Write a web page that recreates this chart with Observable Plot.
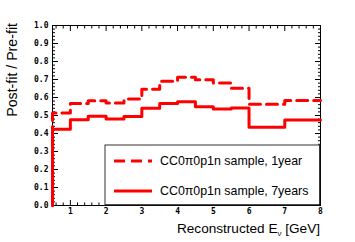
<!DOCTYPE html>
<html>
<head>
<meta charset="utf-8">
<script src="https://cdn.jsdelivr.net/npm/d3@7"></script>
<script src="https://cdn.jsdelivr.net/npm/@observablehq/plot@0.6"></script>
<style>
  html, body { margin: 0; padding: 0; background: #fff; }
  #chart { width: 355px; height: 242px; }
</style>
</head>
<body>
<div id="chart"></div>
<script>
// Bin edges (GeV) and bin contents for each series
const binEdges = [0.5, 1, 1.5, 2, 2.5, 3, 3.5, 4, 4.5, 5, 5.5, 6, 7, 8];
const oneYear   = [0.514, 0.566, 0.582, 0.569, 0.591, 0.646, 0.690, 0.713, 0.698, 0.680, 0.652, 0.563, 0.584];
const sevenYears = [0.424, 0.477, 0.496, 0.480, 0.495, 0.540, 0.566, 0.577, 0.549, 0.536, 0.541, 0.435, 0.475];
const seriesNames = ["CC0\u03c00p1n sample, 1year", "CC0\u03c00p1n sample, 7years"];
const yMajor = [0, 0.1, 0.2, 0.3, 0.4, 0.5, 0.6, 0.7, 0.8, 0.9, 1.0];
const xMajor = [1, 2, 3, 4, 5, 6, 7, 8];
const yMinor = d3.range(0, 1.0001, 0.02).map(v => +v.toFixed(2)).filter(v => !yMajor.some(m => Math.abs(m - v) < 1e-6));
const xMinor = d3.range(0.6, 8.0001, 0.2).map(v => +v.toFixed(1)).filter(v => !xMajor.some(m => Math.abs(m - v) < 1e-6));

function steps(values) {
  const pts = [{x: binEdges[0], y: 0}];
  values.forEach((v, i) => pts.push({x: binEdges[i], y: v}));
  pts.push({x: binEdges[binEdges.length - 1], y: values[values.length - 1]});
  return pts;
}

const red = "#ff0000";
const tickFont = "DejaVu Sans Mono";

const plot = Plot.plot({
  width: 355,
  height: 242,
  marginLeft: 52,
  marginRight: 35,
  marginTop: 25,
  marginBottom: 37,
  style: {background: "white", color: "black"},
  x: {domain: [0.5, 8]},
  y: {domain: [0, 1]},
  marks: [
    // tick labels
    Plot.axisY(yMajor, {anchor: "left", tickSize: 0, tickPadding: 4, tickFormat: d3.format(".1f"), label: null,
      fontFamily: tickFont, fontWeight: "bold", fontSize: 8}),
    Plot.axisX(xMajor, {anchor: "bottom", tickSize: 0, tickPadding: 3, tickFormat: d3.format("d"), label: null,
      fontFamily: tickFont, fontWeight: "bold", fontSize: 8}),
    // inward tick marks
    Plot.axisY(yMajor, {anchor: "left", tickSize: -6, tickFormat: () => "", label: null}),
    Plot.axisY(yMinor, {anchor: "left", tickSize: -3, tickFormat: () => "", label: null}),
    Plot.axisY(yMajor, {anchor: "right", tickSize: -6, tickFormat: () => "", label: null}),
    Plot.axisY(yMinor, {anchor: "right", tickSize: -3, tickFormat: () => "", label: null}),
    Plot.axisX(xMajor, {anchor: "bottom", tickSize: -5, tickFormat: () => "", label: null}),
    Plot.axisX(xMinor, {anchor: "bottom", tickSize: -2.5, tickFormat: () => "", label: null}),
    Plot.axisX(xMajor, {anchor: "top", tickSize: -5, tickFormat: () => "", label: null}),
    Plot.axisX(xMinor, {anchor: "top", tickSize: -2.5, tickFormat: () => "", label: null}),
    Plot.frame({stroke: "black", strokeWidth: 1}),
    Plot.line(steps(oneYear), {x: "x", y: "y", curve: "step-after", stroke: red, strokeWidth: 3, strokeDasharray: "11,6"}),
    Plot.line(steps(sevenYears), {x: "x", y: "y", curve: "step-after", stroke: red, strokeWidth: 3})
  ]
});

document.getElementById("chart").appendChild(plot);

// Axis titles and legend (layout elements)
const svg = d3.select(plot);
const xs = plot.scale("x"), ys = plot.scale("y");
const fLeft = xs.range[0], fRight = xs.range[1];
const fTop = ys.range[1], fBottom = ys.range[0];

const xt = svg.append("text")
  .attr("x", fRight).attr("y", 233)
  .attr("text-anchor", "end")
  .attr("font-family", "Liberation Sans, Arial, sans-serif")
  .attr("font-size", 13.6)
  .attr("fill", "black");
xt.append("tspan").text("Reconstructed E");
xt.append("tspan").attr("font-size", 8).attr("dy", 3).text("\u03bd");
xt.append("tspan").attr("dy", -3).text(" [GeV]");

svg.append("text")
  .attr("transform", `translate(17,${fTop - 2}) rotate(-90)`)
  .attr("text-anchor", "end")
  .attr("font-family", "Liberation Sans, Arial, sans-serif")
  .attr("font-size", 14.2)
  .attr("fill", "black")
  .text("Post-fit / Pre-fit");

// legend box
const lg = svg.append("g");
const boxX = 105, boxY = 145;
lg.append("rect")
  .attr("x", boxX).attr("y", boxY)
  .attr("width", fRight - boxX).attr("height", fBottom - boxY)
  .attr("fill", "white").attr("stroke", "#333").attr("stroke-width", 1);
const rows = [{dash: "11,6", y: 161}, {dash: null, y: 191}];
rows.forEach((r, i) => {
  lg.append("line")
    .attr("x1", 114).attr("x2", 152).attr("y1", r.y).attr("y2", r.y)
    .attr("stroke", red).attr("stroke-width", 3)
    .attr("stroke-dasharray", r.dash);
  lg.append("text")
    .attr("x", 160).attr("y", r.y).attr("dy", "0.35em")
    .attr("text-anchor", "start")
    .attr("font-family", "Liberation Sans, Arial, sans-serif")
    .attr("font-size", 12.4)
    .attr("fill", "black")
    .text(seriesNames[i]);
});
// redraw the frame edges over the legend
svg.append("path")
  .attr("d", `M${boxX},${fBottom}H${fRight}V${boxY}`)
  .attr("fill", "none").attr("stroke", "black").attr("stroke-width", 1.2);
</script>
</body>
</html>
